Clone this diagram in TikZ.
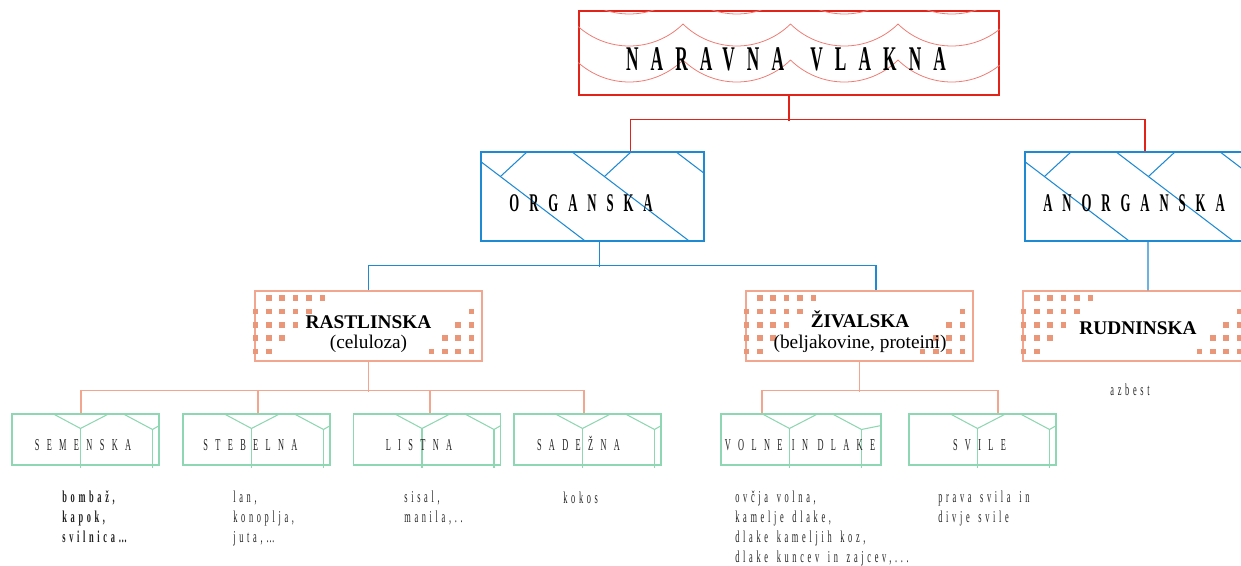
\documentclass[tikz,border=0pt]{standalone}
\usepackage{fontspec}
\setmainfont{Liberation Serif}
\newfontfamily\titelschrift[FakeStretch=0.5,LetterSpace=35,WordSpace=1.6]{Liberation Serif}
\newfontfamily\gruppeschrift[FakeStretch=0.5,LetterSpace=39]{Liberation Serif}
\newfontfamily\artschrift[FakeStretch=0.5,LetterSpace=44]{Liberation Serif}
\newfontfamily\beispielschrift[FakeStretch=0.5,LetterSpace=22,WordSpace=1.5]{Liberation Serif}
\usetikzlibrary{calc}
\definecolor{rotlinie}{HTML}{E2231A}
\definecolor{rotbogen}{HTML}{EE7B72}
\definecolor{blaulinie}{HTML}{1E8AD3}
\definecolor{lachs}{HTML}{F3A68F}
\definecolor{lachspunkt}{HTML}{EA9679}
\definecolor{gruen}{HTML}{8FD6B2}
\definecolor{schrift}{HTML}{222222}
\begin{document}
\begin{tikzpicture}[x=0.02cm,y=-0.02cm,
	titelbox/.style={rectangle,draw=rotlinie,line width=0.7pt,minimum width=420*\einheit,minimum height=84*\einheit,inner sep=0pt},
	blaubox/.style={rectangle,draw=blaulinie,line width=0.6pt,minimum width=223*\einheit,minimum height=89*\einheit,inner sep=0pt},
	lachsbox/.style={rectangle,draw=lachs,line width=0.6pt,minimum width=227*\einheit,minimum height=70*\einheit,inner sep=0pt},
	gruenbox/.style={rectangle,draw=gruen,line width=0.6pt,minimum width=147*\einheit,minimum height=51*\einheit,inner sep=0pt},
	bogen/.style={draw=rotbogen,line width=0.45pt},
	muster/.style={draw=blaulinie,line width=0.6pt},
	punkt/.style={fill=lachspunkt},
	gruenlinie/.style={draw=gruen,line width=0.6pt},
	rotverb/.style={draw=rotlinie,line width=0.75pt},
	blauverb/.style={draw=blaulinie,line width=0.7pt},
	lachsverb/.style={draw=lachs,line width=0.7pt},
	titeltext/.style={anchor=base,inner sep=0pt,font=\titelschrift\bfseries\fontsize{19.7}{22}\selectfont},
	gruppetext/.style={anchor=base,inner sep=0pt,font=\gruppeschrift\bfseries\fontsize{14.5}{16}\selectfont},
	klassetext/.style={anchor=base,inner sep=0pt,font=\bfseries\fontsize{11}{13}\selectfont},
	untertext/.style={anchor=base,inner sep=0pt,font=\fontsize{11}{13}\selectfont},
	arttext/.style={anchor=base,inner sep=0pt,text=schrift,font=\artschrift\fontsize{9.5}{11}\selectfont},
	beispieltext/.style={anchor=base west,inner sep=0pt,align=left,text=schrift,font=\beispielschrift\fontsize{9.5}{11.34}\selectfont}]
	\def\einheit{0.02cm}
	\useasboundingbox (0,0) rectangle (1241,565);
	% Kaesten
	\node[titelbox] (titel) at (789,53) {};
	\node[blaubox] (org) at (592.5,196.5) {};
	\node[blaubox,minimum width=242*\einheit] (anorg) at (1146,196.5) {};
	\node[lachsbox] (rast) at (368.5,326) {};
	\node[lachsbox] (ziv) at (859.5,326) {};
	\node[lachsbox] (rud) at (1136.5,326) {};
	\node[gruenbox] (semen) at (85.5,439.5) {};
	\node[gruenbox] (stebel) at (256.5,439.5) {};
	\node[gruenbox] (list) at (427,439.5) {};
	\node[gruenbox] (sadez) at (587.5,439.5) {};
	\node[gruenbox,minimum width=160*\einheit] (volne) at (801,439.5) {};
	\node[gruenbox] (svile) at (982.5,439.5) {};
	%
	% Boegen im Titel
	\begin{scope}
		\clip (titel.south west) rectangle (titel.north east);
		\foreach \zeile in {-8,24,60}
			\foreach \k in {-1,...,4}
				\draw[bogen] (575.5+107.5*\k,\zeile) arc[start angle=134.5,end angle=45.5,radius=76.7];
	\end{scope}
	%
	% Schraeglinien
	\foreach \b in {org,anorg} {
		\begin{scope}
			\clip (\b.south west) rectangle (\b.north east);
			\foreach \k in {0,1,2} {
				\draw[muster] ($(\b.north west)+(-13+104*\k,0)$) -- ++(117,89);
				\draw[muster] ($(\b.north west)+(20+104*\k,25)$) -- ++(27,-25);
			}
		\end{scope}
	}
	%
	% Punkte
	\foreach \b in {rast,ziv,rud} {
		\foreach \r/\von/\bis in {0/1/5,1/0/4,2/0/3,3/0/2,4/0/1}
			\foreach \c in {\von,...,\bis}
				\fill[punkt] ($(\b.north west)+(1+13.4*\c,7.7+13.3*\r)$) +(-2.8,-2.8) rectangle +(2.8,2.8);
		\foreach \r/\anz in {1/0,2/1,3/2,4/3}
			\foreach \c in {0,...,\anz}
				\fill[punkt] ($(\b.north east)+(-11-13.4*\c,7.7+13.3*\r)$) +(-2.8,-2.8) rectangle +(2.8,2.8);
	}
	%
	% Dach im gruenen Kasten
	\foreach \b in {semen,stebel,list,sadez,volne,svile} {
		\draw[gruenlinie] ($(\b.north west)+(41,0)$) -- ($(\b.north west)+(69,15)$) -- ($(\b.north west)+(98,0)$);
		\draw[gruenlinie] ($(\b.north west)+(111,0)$) -- ($(\b.north west)+(141,16)$) -- ($(\b.north east)+(0,12)$);
		\draw[gruenlinie] ($(\b.north west)+(69,15)$) -- ($(\b.south west)+(69,2)$);
		\draw[gruenlinie] ($(\b.north west)+(141,16)$) -- ($(\b.south west)+(141,2)$);
	}
	%
	% Verbindungen
	\draw[rotverb] (titel.south) -- ++(0,25);
	\draw[rotverb] ($(org.north)+(38,0)$) |- ($(anorg.north)+(-1,-32)$) -- ($(anorg.north)+(-1,0)$);
	\draw[blauverb] ($(org.south)+(7,0)$) -- ++(0,25);
	\draw[blauverb] (rast.north) |- ($(ziv.north)+(16.5,-25)$) -- ($(ziv.north)+(16.5,0)$);
	\draw[blauverb] ($(anorg.south)+(2,0)$) -- ($(rud.north)+(11.5,0)$);
	\draw[lachsverb] (rast.south) -- ++(0,30);
	\draw[lachsverb] ($(semen.north)+(-4.5,0)$) |- ($(sadez.north)+(-3.5,-23)$) -- ($(sadez.north)+(-3.5,0)$);
	\draw[lachsverb] ($(stebel.north)+(1.5,0)$) -- ++(0,-23);
	\draw[lachsverb] ($(list.north)+(3,0)$) -- ++(0,-23);
	\draw[lachsverb] (ziv.south) -- ++(0,30);
	\draw[lachsverb] ($(volne.north)+(-39,0)$) |- ($(svile.north)+(15.5,-23)$) -- ($(svile.north)+(15.5,0)$);
	%
	% Texte
	\node[titeltext] (titel-t) at (786,70) {NARAVNA VLAKNA};
	\node[gruppetext] (org-t) at (581,211) {ORGANSKA};
	\node[gruppetext] (anorg-t) at (1134,211) {ANORGANSKA};
	\node[klassetext] (rast-t) at (368.5,328) {RASTLINSKA};
	\node[untertext] (rast-u) at (368.5,348) {(celuloza)};
	\node[klassetext] (ziv-t) at (860,327) {ŽIVALSKA};
	\node[untertext] (ziv-u) at (860,348) {(beljakovine, proteini)};
	\node[klassetext] (rud-t) at (1138,334) {RUDNINSKA};
	\node[arttext] (semen-t) at (83,450) {SEMENSKA};
	\node[arttext] (stebel-t) at (250.5,450) {STEBELNA};
	\node[arttext] (list-t) at (419,450) {LISTNA};
	\node[arttext] (sadez-t) at (578.5,450) {SADEŽNA};
	\node[arttext] (volne-t) at (800,450) {VOLNE IN DLAKE};
	\node[arttext] (svile-t) at (979.5,450) {SVILE};
	%
	\node[beispieltext,anchor=base] (rud-b) at (1130,395) {azbest};
	\node[beispieltext,font=\beispielschrift\bfseries\fontsize{9.5}{11.34}\selectfont] (semen-b) at (62,542) {bombaž,\\kapok,\\svilnica\dots};
	\node[beispieltext] (stebel-b) at (233,542) {lan,\\konoplja,\\juta,\dots};
	\node[beispieltext] (list-b) at (404,522) {sisal,\\manila,..};
	\node[beispieltext] (sadez-b) at (563,503) {kokos};
	\node[beispieltext] (volne-b) at (735,562) {ovčja volna,\\kamelje dlake,\\dlake kameljih koz,\\dlake kuncev in zajcev,...};
	\node[beispieltext] (svile-b) at (938,522) {prava svila in\\divje svile};
\end{tikzpicture}
\end{document}
